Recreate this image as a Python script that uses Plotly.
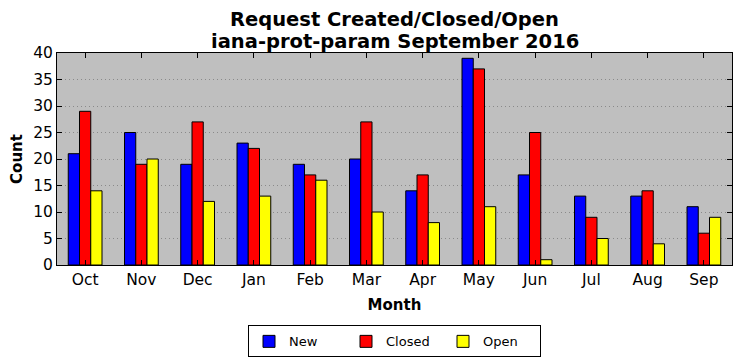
import plotly.graph_objects as go

months = ["Oct", "Nov", "Dec", "Jan", "Feb", "Mar", "Apr", "May", "Jun", "Jul", "Aug", "Sep"]
new_vals = [21, 25, 19, 23, 19, 20, 14, 39, 17, 13, 13, 11]
closed_vals = [29, 19, 27, 22, 17, 27, 17, 37, 25, 9, 14, 6]
open_vals = [14, 20, 12, 13, 16, 10, 8, 11, 1, 5, 4, 9]
y_ticks = [0, 5, 10, 15, 20, 25, 30, 35, 40]
title_lines = ["Request Created/Closed/Open", "iana-prot-param September 2016"]

series = [("New", new_vals, "#0000ff"), ("Closed", closed_vals, "#ff0000"), ("Open", open_vals, "#ffff00")]

fig = go.Figure()
for name, vals, color in series:
    fig.add_trace(go.Bar(x=months, y=vals, name=name,
                         marker=dict(color=color, line=dict(color="black", width=1))))

font_family = "DejaVu Sans"
fig.update_layout(
    width=741, height=361,
    margin=dict(l=57, r=9, t=53, b=96, autoexpand=False),
    paper_bgcolor="white", plot_bgcolor="#bfbfbf",
    barmode="group", bargap=0.4, bargroupgap=0,
    font=dict(family=font_family, size=12, color="black"),
    legend=dict(orientation="h", x=0.5, xanchor="center", y=-0.285, yanchor="top",
                bordercolor="black", borderwidth=1, font=dict(size=13),
                itemwidth=30, entrywidthmode="pixels", entrywidth=52),
    showlegend=True,
)
for txt, yy in zip(title_lines, [1.158, 1.055]):
    fig.add_annotation(text="<b>" + txt + "</b>", xref="paper", yref="paper",
                       x=0.5, y=yy, xanchor="center", yanchor="middle",
                       showarrow=False, font=dict(size=19.5, family=font_family))
fig.update_xaxes(
    title=dict(text="<b>Month</b>", font=dict(size=15), standoff=11),
    tickfont=dict(size=15.5),
    showline=True, linecolor="black", linewidth=1, mirror="ticks",
    ticks="inside", ticklen=5, tickcolor="black",
    showgrid=False, automargin=False,
)
fig.update_yaxes(
    title=dict(text="<b>Count</b>", font=dict(size=15), standoff=6),
    tickfont=dict(size=15.5),
    range=[0, 40], tickvals=y_ticks,
    showline=True, linecolor="black", linewidth=1, mirror="ticks",
    ticks="inside", ticklen=5, tickcolor="black",
    showgrid=True, gridcolor="#8a8a8a", griddash="1px,3px", gridwidth=1,
    zeroline=False, automargin=False,
)
fig.write_html("out.html",
               config={"displayModeBar": False},
               post_script="document.body.style.margin='0';document.body.style.overflow='hidden';")
